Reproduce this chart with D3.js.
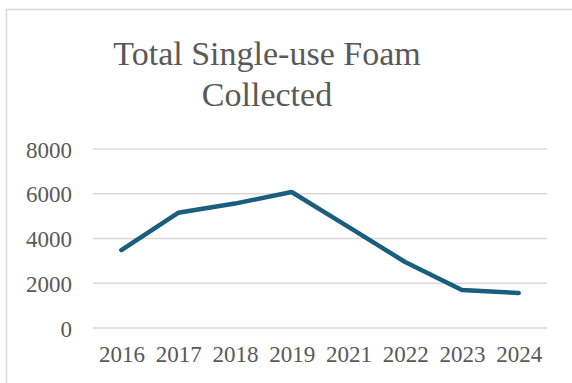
<!DOCTYPE html>
<html>
<head>
<meta charset="utf-8">
<script src="https://cdn.jsdelivr.net/npm/d3@7"></script>
<style>
  html, body { margin: 0; padding: 0; background: #fff; }
  svg { display: block; }
</style>
</head>
<body>
<svg id="chart" width="572" height="383"></svg>
<script>
// Series data
const years = ["2016", "2017", "2018", "2019", "2021", "2022", "2023", "2024"];
const foamCollected = [3480, 5150, 5560, 6080, 4520, 2950, 1700, 1560];
const yTicks = [0, 2000, 4000, 6000, 8000];
const titleLines = ["Total Single-use Foam", "Collected"];

const W = 572, H = 383;
const margin = { left: 93, right: 25, top: 149, bottom: 55 };
const svg = d3.select("#chart");
const font = "'Liberation Serif', 'Times New Roman', serif";
const textColor = "#595959";

// Chart area frame (left and top edges)
svg.append("path")
  .attr("d", `M6.5,${H} V9.5 H${W}`)
  .attr("fill", "none")
  .attr("stroke", "#d9d9d9")
  .attr("stroke-width", 1.5);

// Title
svg.append("text")
  .attr("font-family", font)
  .attr("font-size", 34)
  .attr("fill", textColor)
  .attr("text-anchor", "middle")
  .selectAll("tspan")
  .data(titleLines)
  .join("tspan")
  .attr("x", 267)
  .attr("y", (d, i) => 65 + i * 41)
  .text(d => d);

const x = d3.scalePoint()
  .domain(years)
  .range([margin.left, W - margin.right])
  .padding(0.5);

const y = d3.scaleLinear()
  .domain([0, 8000])
  .range([328, margin.top]);

// Horizontal gridlines
svg.append("g")
  .selectAll("line")
  .data(yTicks)
  .join("line")
  .attr("x1", margin.left)
  .attr("x2", W - margin.right)
  .attr("y1", d => y(d))
  .attr("y2", d => y(d))
  .attr("stroke", "#d9d9d9")
  .attr("stroke-width", 1.5);

// Y axis labels
const yAxis = d3.axisLeft(y).tickValues(yTicks).tickSize(0).tickPadding(0)
  .tickFormat(d3.format("d"));
svg.append("g")
  .attr("transform", "translate(72,0)")
  .call(yAxis)
  .call(g => g.select(".domain").remove())
  .call(g => g.selectAll("text")
    .attr("font-family", font)
    .attr("font-size", 23)
    .attr("fill", textColor)
    .attr("dy", "0.35em"));

// X axis labels
const xAxis = d3.axisBottom(x).tickSize(0).tickPadding(0);
svg.append("g")
  .attr("transform", "translate(0,346)")
  .call(xAxis)
  .call(g => g.select(".domain").remove())
  .call(g => g.selectAll("text")
    .attr("font-family", font)
    .attr("font-size", 23)
    .attr("fill", textColor));

// Data line
const line = d3.line()
  .x((d, i) => x(years[i]))
  .y(d => y(d));

svg.append("path")
  .datum(foamCollected)
  .attr("d", line)
  .attr("fill", "none")
  .attr("stroke", "#195e7f")
  .attr("stroke-width", 4.5)
  .attr("stroke-linejoin", "round")
  .attr("stroke-linecap", "round");
</script>
</body>
</html>
